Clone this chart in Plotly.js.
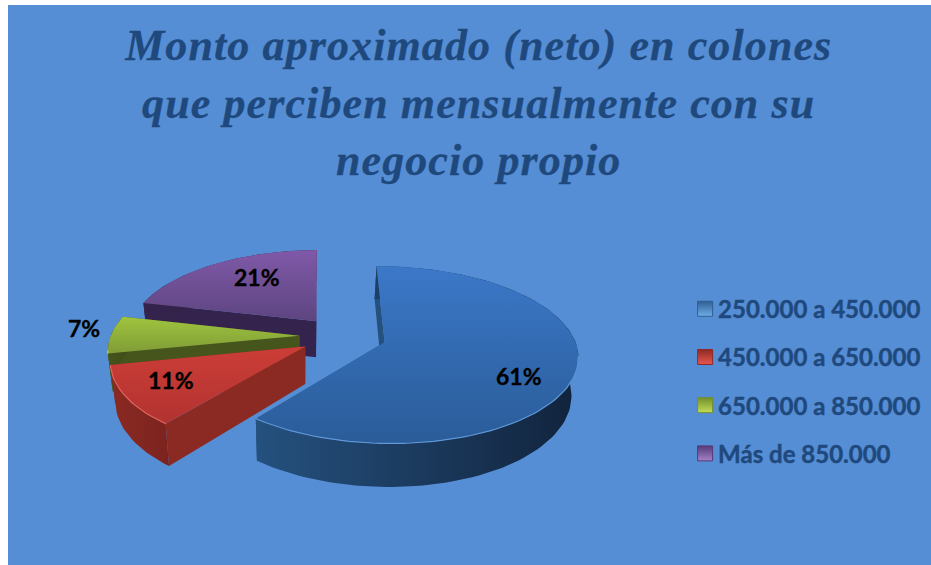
<!DOCTYPE html>
<html><head><meta charset="utf-8">
<script src="https://cdn.plot.ly/plotly-3.0.1.min.js"></script>
<style>
html,body{margin:0;padding:0;background:#fff;overflow:hidden}
#c{width:931px;height:565px}
.legendpoints path.scatterpts{transform:translate(27px,0)}
.gtitle{letter-spacing:1.1px;stroke:#1f497d;stroke-width:.3px}
.legendtext{stroke:#1f497d;stroke-width:.45px}
.annotation-text{stroke:#000;stroke-width:.35px}
</style></head><body><div id="c"></div>
<script>
const categories = ['250.000 a 450.000','450.000 a 650.000','650.000 a 850.000','Más de 850.000'];
const values = [61,11,7,21];
const titleLines = ['Monto aproximado (neto) en colones','que perciben mensualmente con su','negocio propio'];
const topColors = [['#2a5c98','#3b78c8'],['#b23330','#cc3d37'],['#7f9c36','#a0c43f'],['#5d4580','#8059a8']];
const wallColors = [['#25517f','#11233c'],['#8a2a22','#7c231f'],['#45551c','#3f4d1a'],['#34234c','#2f2044']];
const rimColors = ['#5f97d8','#e2645c','#b5d45c','#9a78c0'];
const swatchColors = [['#2f5f93','#6eaee8'],['#8f2a26','#e8574f'],['#72902c','#c2dc58'],['#553a78','#a582c8']];
const labelPositions = [[519,376],[171,380],[84,328],[257,277]];

// projection of the exploded disc
const P = {cx:343, cy:336, b:189, a:85, k:0.14, h:37, explode:0.23, rot:-1, vx:300, conv:0.975};
function proj(X,Z,low){
  const w = 1-P.k*Z;
  let x = P.cx+P.b*X/w, y = P.cy+P.a*Z/w;
  if(low){ x = P.vx+(x-P.vx)*P.conv; y += P.h/w; }
  return [x,y];
}
const total = values.reduce((a,b)=>a+b,0);
let acc = P.rot;
const slices = values.map((v,i)=>{
  const a0 = acc, a1 = acc+v/total*360; acc = a1;
  const mid = (a0+a1)/2*Math.PI/180;
  const ox = P.explode*Math.sin(mid), oz = -P.explode*Math.cos(mid);
  const arc = [];
  for(let a=a0;a<a1;a+=2) arc.push(a);
  arc.push(a1);
  const pts = arc.map(a=>[ox+Math.sin(a*Math.PI/180), oz-Math.cos(a*Math.PI/180)]);
  return {i, ox, oz, pts};
});
function poly(list){ return {x:list.map(p=>p[0]), y:list.map(p=>p[1])}; }
function fillTrace(list,cols,type,name){
  const t = poly(list);
  return {type:'scatter',mode:'lines',x:t.x,y:t.y,fill:'toself',line:{width:0},
    fillgradient:{type:type,colorscale:[[0,cols[0]],[1,cols[1]]]},
    showlegend:false,hoverinfo:'skip',name:name};
}
const traces = [];
[3,2,1,0].forEach(idx=>{
  const s = slices[idx];
  const first = s.pts[0], last = s.pts[s.pts.length-1];
  const c = wallColors[idx], name = categories[idx];
  [first,last].forEach(e=>{
    traces.push(fillTrace([proj(s.ox,s.oz),proj(e[0],e[1]),proj(e[0],e[1],true),proj(s.ox,s.oz,true)],[c[0],c[0]],'vertical',name));
  });
  const upper = s.pts.map(p=>proj(p[0],p[1]));
  const lower = s.pts.map(p=>proj(p[0],p[1],true)).reverse();
  traces.push(fillTrace(upper.concat(lower),c,'horizontal',name));
  const topPoly = [proj(s.ox,s.oz)].concat(upper);
  traces.push(fillTrace(topPoly,topColors[idx],'vertical',name));
  const rim = poly(upper.filter((p,j)=>s.pts[j][1]-s.oz>0.15));
  traces.push({type:'scatter',mode:'lines',x:rim.x,y:rim.y,line:{color:rimColors[idx],width:1.2},showlegend:false,hoverinfo:'skip'});
});
categories.forEach((name,i)=>{
  traces.push({type:'scatter',mode:'markers',x:[null],y:[null],name:name,legendgroup:'g'+i,showlegend:true,
    marker:{symbol:'square',size:15,color:swatchColors[i][0],gradient:{type:'vertical',color:swatchColors[i][1]},
      line:{color:swatchColors[i][0],width:1}}});
});
const layout = {
  width:931,height:565,paper_bgcolor:'#ffffff',plot_bgcolor:'#558ed5',
  margin:{l:8,r:0,t:5,b:0,pad:0},
  xaxis:{range:[8,931],visible:false,fixedrange:true},
  yaxis:{range:[565,5],visible:false,fixedrange:true},
  title:{text:titleLines.join('<br>'),x:0.51,xanchor:'center',xref:'paper',y:0.893,yanchor:'top',yref:'container',
    font:{family:'Liberation Serif',size:44,style:'italic',weight:'bold',color:'#1f497d'}},
  legend:{x:0.726,xanchor:'left',y:0.497,yanchor:'top',bgcolor:'rgba(0,0,0,0)',borderwidth:0,tracegroupgap:14,itemwidth:30,
    traceorder:'grouped',font:{family:'Lato',size:24,weight:'bold',color:'#1f497d'}},
  annotations:values.map((v,i)=>({x:labelPositions[i][0],y:labelPositions[i][1],xref:'x',yref:'y',text:v+'%',showarrow:false,
    font:{family:'Lato',size:23,weight:'bold',color:'#000000'}})),
  showlegend:true
};
Plotly.newPlot('c',traces,layout,{displayModeBar:false,staticPlot:true});
</script></body></html>
